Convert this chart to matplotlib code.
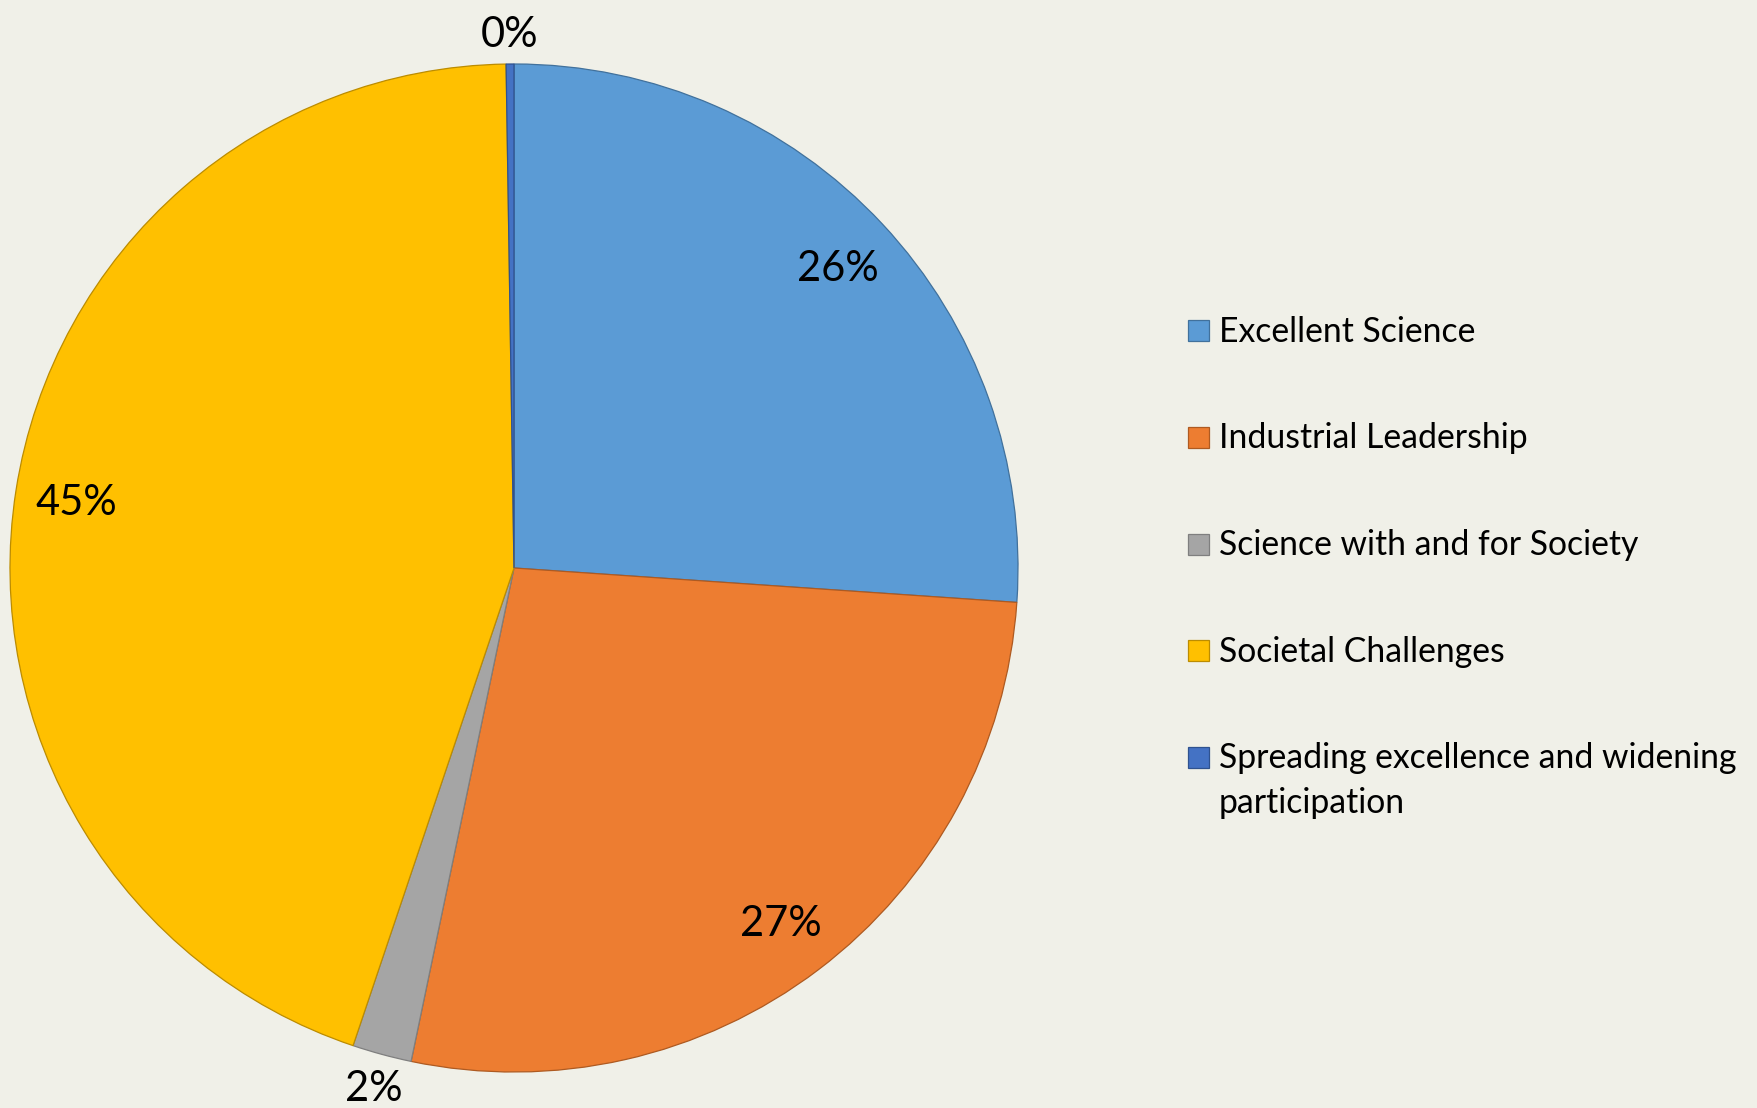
import matplotlib
matplotlib.use("Agg")
import matplotlib.pyplot as plt
from matplotlib.patches import Rectangle
import numpy as np

# ---- data ----
categories = ["Excellent Science", "Industrial Leadership",
              "Science with and for Society", "Societal Challenges",
              "Spreading excellence and widening participation"]
legend_labels = ["Excellent Science", "Industrial Leadership",
                 "Science with and for Society", "Societal Challenges",
                 "Spreading excellence and widening\nparticipation"]
shares = [26.1, 27.2, 1.9, 44.6, 0.25]
colors = ["#5B9BD5", "#ED7D31", "#A5A5A5", "#FFC000", "#4472C4"]
edge_colors = ["#41719C", "#AE5A21", "#7F7F7F", "#BC8C00", "#2F528F"]

plt.rcParams['font.family'] = ['Lato', 'DejaVu Sans']

W, H = 1758, 1108
fig = plt.figure(figsize=(W / 100, H / 100), dpi=100)
bg = "#F0F0E8"
fig.patch.set_facecolor(bg)

# pie geometry (pixels, bottom-based)
cx, cy, R = 514, H - 568, 504
lim = 1.12
half = R * lim
ax = fig.add_axes([(cx - half) / W, (cy - half) / H, 2 * half / W, 2 * half / H])
ax.set_facecolor(bg)

wedges, texts, autotexts = ax.pie(
    shares, colors=colors, startangle=90, counterclock=False,
    autopct='%1.0f%%', pctdistance=0.878,
    wedgeprops=dict(linewidth=0.9),
    textprops=dict(fontsize=30, color='black'))
for w, ec in zip(wedges, edge_colors):
    w.set_edgecolor(ec)

total = sum(shares)
for w, t, s in zip(wedges, autotexts, shares):
    if s / total * 100 < 5:
        th = np.deg2rad((w.theta1 + w.theta2) / 2)
        r = 1.064
        t.set_position((r * np.cos(th), r * np.sin(th)))
    t.set_ha('center')
    t.set_va('center_baseline')
    t.set_clip_on(False)

ax.set_xlim(-lim, lim)
ax.set_ylim(-lim, lim)
ax.set_aspect('equal')
ax.axis('off')

# ---- legend ----
sq_x, sq_w, sq_h = 1188, 21, 21
txt_x = 1219
row0, row_step = 331, 106.5
line_step = 45
for i, (lab, c, ec) in enumerate(zip(legend_labels, colors, edge_colors)):
    yc = row0 + i * row_step
    fig.patches.append(Rectangle((sq_x / W, 1 - (yc + sq_h / 2) / H),
                                 sq_w / W, sq_h / H, transform=fig.transFigure,
                                 facecolor=c, edgecolor=ec, linewidth=0.9))
    for j, line in enumerate(lab.split("\n")):
        fig.text(txt_x / W, 1 - (yc + 11 + j * line_step) / H, line,
                 fontsize=24.3, va='baseline', ha='left', color='black')

fig.savefig("out.png", dpi=100, facecolor=bg)
